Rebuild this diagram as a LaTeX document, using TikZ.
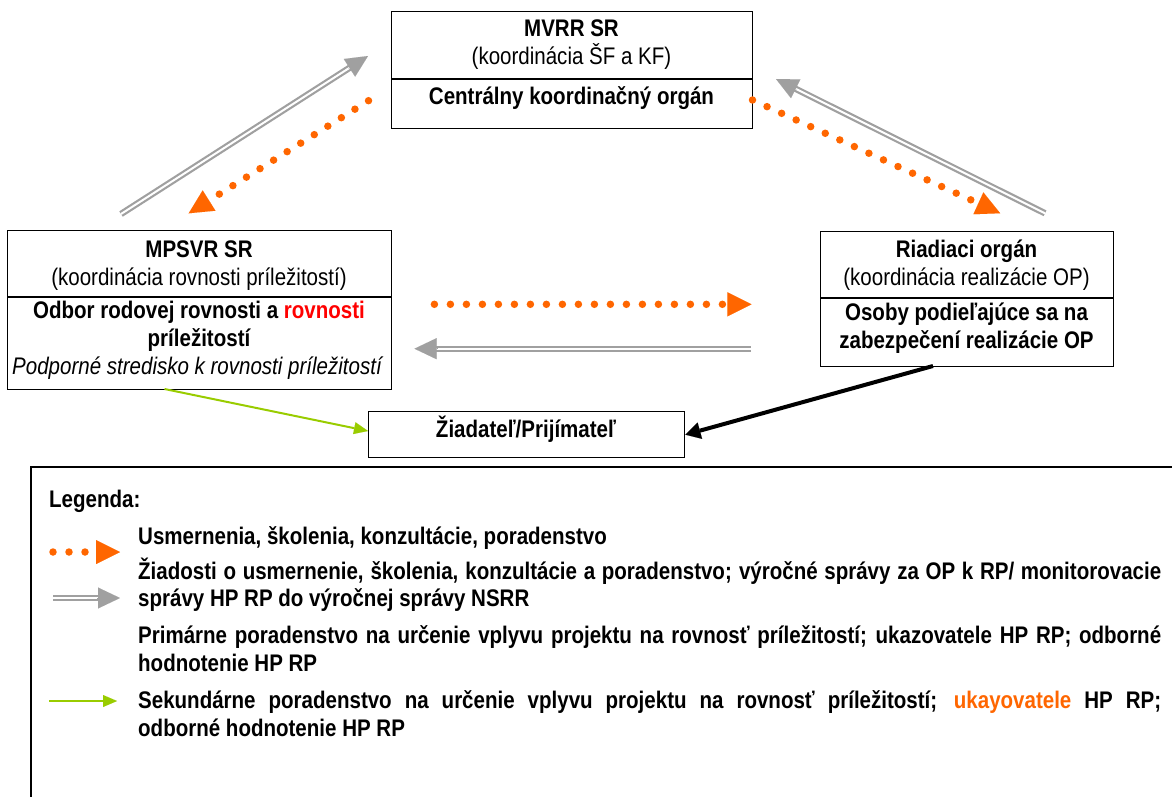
\documentclass[tikz,border=0pt]{standalone}
\usepackage{fontspec}
\setmainfont[FakeStretch=0.855]{Liberation Sans}
\usetikzlibrary{arrows.meta,calc}
\definecolor{orng}{HTML}{FF6600}
\definecolor{gry}{HTML}{A0A0A0}
\definecolor{grn}{HTML}{99CC00}
\begin{document}
\begin{tikzpicture}[x=1pt,y=-1pt,
 box/.style={draw, line width=1.4pt, inner sep=0pt, anchor=north west},
 txt/.style={font=\fontsize{24}{28}\selectfont, inner sep=0pt, anchor=base},
 btxt/.style={font=\fontsize{24}{28}\selectfont\bfseries, inner sep=0pt, anchor=base},
 itxt/.style={font=\fontsize{24}{28}\selectfont\itshape, inner sep=0pt, anchor=base},
 legtxt/.style={btxt, anchor=base west},
 orangedots/.style={orng, line width=7.5pt, line cap=round, dash pattern=on 0pt off 16pt,
   -{Triangle[length=24pt,width=24pt,line width=0.01pt]}},
 dblline/.style={gry, line width=2.2pt, double=white, double distance=2pt},
 greyhead/.style={gry, line width=0.5pt, -{Triangle[length=22pt,width=21pt,line width=0.01pt]}},
 greenarrow/.style={grn, line width=2pt, -{Triangle[length=14pt,width=12pt,line width=0.01pt]}},
 blackarrow/.style={black, line width=4pt, -{Triangle[length=15pt,width=17pt,line width=0.01pt]}},
]
\useasboundingbox (0,0) rectangle (1172,797);

% boxes
\node[box, minimum width=361pt, minimum height=117pt] (mvrr) at (391,11) {};
\draw[line width=1.4pt] ($(mvrr.north west)+(0,68)$) -- ($(mvrr.north east)+(0,68)$);
\node[box, minimum width=384pt, minimum height=159pt] (mpsvr) at (7,230) {};
\draw[line width=1.4pt] ($(mpsvr.north west)+(0,67)$) -- ($(mpsvr.north east)+(0,67)$);
\node[box, minimum width=293pt, minimum height=135pt] (ro) at (820,231) {};
\draw[line width=1.4pt] ($(ro.north west)+(0,67)$) -- ($(ro.north east)+(0,67)$);
\node[box, minimum width=316pt, minimum height=46pt] (ziad) at (368,411) {};

% box texts
\node[btxt] (t1) at (571.5,37) {MVRR SR};
\node[txt] (t2) at (571.5,64.5) {(koordinácia ŠF a KF)};
\node[btxt] (t3) at (571.5,105) {Centrálny koordinačný orgán};

\node[btxt] (t4) at (199,257) {MPSVR SR};
\node[txt] (t5) at (199,285) {(koordinácia rovnosti príležitostí)};
\node[btxt] (t6) at (199,318) {Odbor rodovej rovnosti a \textcolor{red}{rovnosti}};
\node[btxt] (t7) at (199,346) {príležitostí};
\node[itxt] (t8) at (197,374) {Podporné stredisko k rovnosti príležitostí};

\node[btxt] (t9) at (966.5,257) {Riadiaci orgán};
\node[txt] (t10) at (966.5,285) {(koordinácia realizácie OP)};
\node[btxt] (t11) at (966.5,320) {Osoby podieľajúce sa na};
\node[btxt] (t12) at (966.5,348) {zabezpečení realizácie OP};

\node[btxt] (t13) at (526,437) {Žiadateľ/Prijímateľ};

% connector end points
\coordinate (a1s) at (121,214);   \coordinate (a1e) at (368,56);
\coordinate (a2s) at (368.5,100.7); \coordinate (a2e) at (188.7,213.3);
\coordinate (a3s) at (752.5,100); \coordinate (a3e) at (1000.2,213.3);
\coordinate (a4s) at (1045,213.3); \coordinate (a4e) at (776,79);
\coordinate (a5s) at (434.4,304.3); \coordinate (a5e) at (751.4,304.3);
\coordinate (a6s) at (751,348.7); \coordinate (a6e) at (414.5,348.7);
\coordinate (a7s) at (164.5,389); \coordinate (a7e) at (368,431);
\coordinate (a8s) at (933,366);

% grey double arrows
\draw[dblline, shorten >=20pt] (a1s) -- (a1e);
\draw[greyhead] ($(a1e)!23pt!(a1s)$) -- (a1e);
\draw[dblline, shorten >=20pt] (a4s) -- (a4e);
\draw[greyhead] ($(a4e)!23pt!(a4s)$) -- (a4e);
\draw[dblline, shorten >=20pt] (a6s) -- (a6e);
\draw[greyhead] ($(a6e)!23pt!(a6s)$) -- (a6e);

% orange dotted arrows
\draw[orangedots] (a2s) -- (a2e);
\draw[orangedots] (a3s) -- (a3e);
\draw[orangedots] (a5s) -- (a5e);

% green and black
\draw[greenarrow] (a7s) -- (a7e);
\draw[blackarrow] (a8s) -- (ziad.east);

% legend frame
\coordinate (lf1) at (31,797); \coordinate (lf2) at (31,467); \coordinate (lf3) at (1172,467);
\draw[line width=1.4pt] (lf1) -- (lf2) -- (lf3);

\node[legtxt] (leg0) at (49,507) {Legenda:};

\coordinate (lo1) at (53,552); \coordinate (lo2) at (120,552);
\draw[orangedots] (lo1) -- (lo2);
\coordinate (lg1) at (53,598); \coordinate (lg2) at (120,598);
\draw[dblline, shorten >=20pt] (lg1) -- (lg2);
\draw[greyhead] ($(lg2)!23pt!(lg1)$) -- (lg2);
\coordinate (lgr1) at (49,701); \coordinate (lgr2) at (117,701);
\draw[greenarrow] (lgr1) -- (lgr2);

\node[legtxt] (leg1) at (138,544) {Usmernenia, školenia, konzultácie, poradenstvo};
\node[legtxt] (leg2a) at (138,579) {\makebox[1023pt][s]{Žiadosti o usmernenie, školenia, konzultácie a poradenstvo; výročné správy za OP k RP/ monitorovacie}};
\node[legtxt] (leg2b) at (138,606.7) {správy HP RP do výročnej správy NSRR};
\node[legtxt] (leg3a) at (138,643) {\makebox[1023pt][s]{Primárne poradenstvo na určenie vplyvu projektu na rovnosť príležitostí; ukazovatele HP RP; odborné}};
\node[legtxt] (leg3b) at (138,671.7) {hodnotenie HP RP};
\node[legtxt] (leg4a) at (138,708) {\makebox[1023pt][s]{Sekundárne poradenstvo na určenie vplyvu projektu na rovnosť príležitostí; \textcolor{orng}{ukayovatele} HP RP;}};
\node[legtxt] (leg4b) at (138,736.7) {odborné hodnotenie HP RP};
\end{tikzpicture}
\end{document}
